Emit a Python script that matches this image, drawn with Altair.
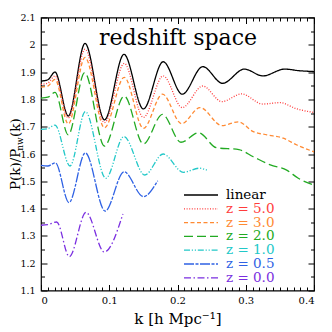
import altair as alt
import pandas as pd

# ---- data ----
names = ["linear", "z = 5.0", "z = 3.0", "z = 2.0", "z = 1.0", "z = 0.5", "z = 0.0"]

k_linear = [0, 0.01, 0.0205, 0.040, 0.0645, 0.093, 0.1216, 0.150, 0.179, 0.207, 0.237, 0.266, 0.298, 0.325, 0.357, 0.379, 0.4]
v_linear = [1.867, 1.872, 1.900, 1.739, 2.005, 1.725, 1.965, 1.765, 1.938, 1.819, 1.920, 1.859, 1.911, 1.886, 1.911, 1.905, 1.902]

k_z50 = [0, 0.01, 0.0205, 0.040, 0.0645, 0.093, 0.122, 0.150, 0.179, 0.207, 0.237, 0.265, 0.294, 0.325, 0.350, 0.375, 0.4]
v_z50 = [1.855, 1.860, 1.886, 1.732, 1.984, 1.715, 1.932, 1.734, 1.886, 1.770, 1.849, 1.792, 1.820, 1.783, 1.788, 1.765, 1.752]

k_z30 = [0, 0.01, 0.0205, 0.040, 0.0645, 0.093, 0.122, 0.150, 0.178, 0.206, 0.233, 0.265, 0.289, 0.311, 0.331, 0.355, 0.375, 0.4]
v_z30 = [1.845, 1.849, 1.873, 1.710, 1.954, 1.696, 1.881, 1.694, 1.819, 1.711, 1.770, 1.704, 1.718, 1.682, 1.670, 1.658, 1.633, 1.608]

k_z20 = [0, 0.01, 0.0205, 0.040, 0.064, 0.093, 0.122, 0.150, 0.178, 0.205, 0.231, 0.257, 0.290, 0.311, 0.336, 0.360, 0.377, 0.4]
v_z20 = [1.805, 1.808, 1.826, 1.670, 1.898, 1.629, 1.812, 1.637, 1.745, 1.643, 1.678, 1.623, 1.616, 1.590, 1.560, 1.541, 1.511, 1.486]

k_z10 = [0, 0.01, 0.0205, 0.0425, 0.065, 0.095, 0.1215, 0.152, 0.179, 0.2085, 0.232, 0.243]
v_z10 = [1.690, 1.693, 1.706, 1.556, 1.755, 1.511, 1.664, 1.523, 1.600, 1.533, 1.548, 1.541]

k_z05 = [0, 0.01, 0.021, 0.041, 0.065, 0.094, 0.1216, 0.150, 0.171]
v_z05 = [1.558, 1.556, 1.568, 1.422, 1.604, 1.391, 1.535, 1.444, 1.502]

k_z00 = [0, 0.01, 0.023, 0.0415, 0.066, 0.0928, 0.120]
v_z00 = [1.339, 1.341, 1.351, 1.224, 1.386, 1.241, 1.380]

x_labels = [0, 0.1, 0.2, 0.3, 0.4]
y_labels = [1.1, 1.2, 1.3, 1.4, 1.5, 1.6, 1.7, 1.8, 1.9, 2.0, 2.1]
x_minor = [round(i * 0.01, 2) for i in range(41) if i % 10 != 0]
y_minor = [round(1.15 + i * 0.1, 2) for i in range(10)]

series_k = [k_linear, k_z50, k_z30, k_z20, k_z10, k_z05, k_z00]
series_v = [v_linear, v_z50, v_z30, v_z20, v_z10, v_z05, v_z00]

# ---- styles ----
colors = ["#000000", "#ff3c3c", "#ff8a33", "#22aa22", "#22c8c8", "#2f62e4", "#7a2ee0"]
dashes = [[1, 0], [1, 1.6], [4, 2.5], [9, 4], [6, 1.8, 1.2, 1.8, 1.2, 1.8], [10, 1.5, 3, 1.5], [7, 2.5, 1.5, 2.5]]

rows = []
for name, ks, vs in zip(names, series_k, series_v):
    for k, v in zip(ks, vs):
        rows.append({"series": name, "k": k, "v": v})
df = pd.DataFrame(rows)

W, H = 273, 273
FONT = "DejaVu Serif"
xscale = alt.Scale(domain=[0, 0.4], nice=False, zero=False)
yscale = alt.Scale(domain=[1.1, 2.1], nice=False, zero=False)

lines = alt.Chart(df).mark_line(interpolate="monotone", strokeWidth=1.3, clip=True).encode(
    x=alt.X("k:Q", scale=xscale,
            axis=alt.Axis(orient="bottom", values=x_labels, format="~g", ticks=False, domain=False,
                          grid=False, labelFont=FONT, labelFontSize=10, labelColor="black",
                          labelPadding=5, title="k [h Mpc⁻¹]", titleFont=FONT, titleFontSize=15,
                          titleFontWeight="normal", titleColor="black", titlePadding=6)),
    y=alt.Y("v:Q", scale=yscale,
            axis=alt.Axis(orient="left", values=y_labels, format="~g", ticks=False, domain=False,
                          grid=False, labelFont=FONT, labelFontSize=9.5, labelColor="black",
                          labelPadding=6, title=None)),
    color=alt.Color("series:N", scale=alt.Scale(domain=names, range=colors), legend=None),
    strokeDash=alt.StrokeDash("series:N", scale=alt.Scale(domain=names, range=dashes), legend=None),
    detail="series:N",
)


def tick_layer(ox, oy, xv, yv, size):
    return alt.Chart(df).mark_point(opacity=0).encode(
        x=alt.X("k:Q", scale=xscale,
                axis=alt.Axis(orient=ox, offset=-H, values=xv, labels=False, domain=False, grid=False,
                              tickSize=size, tickColor="black", tickWidth=1, title=None)),
        y=alt.Y("v:Q", scale=yscale,
                axis=alt.Axis(orient=oy, offset=-W, values=yv, labels=False, domain=False, grid=False,
                              tickSize=size, tickColor="black", tickWidth=1, title=None)),
    )


ticks = [
    tick_layer("top", "right", x_labels, y_labels, 6),
    tick_layer("top", "right", x_minor, y_minor, 3.5),
    tick_layer("bottom", "left", x_labels, y_labels, 6),
    tick_layer("bottom", "left", x_minor, y_minor, 3.5),
]

one = pd.DataFrame({"a": [0]})

title = alt.Chart(pd.DataFrame({"t": ["redshift space"]})).mark_text(
    font=FONT, fontSize=22, align="center", baseline="alphabetic", color="black"
).encode(text="t:N", x=alt.value(137), y=alt.value(27.5))

ytitle_parts = [("P(k)/P", 13.5, -21.5, 172.5), ("nw", 9, -18.5, 133.2), ("(k)", 13.5, -21.5, 119.5)]
ytitle = []
for txt, fs, xx, yy in ytitle_parts:
    ytitle.append(alt.Chart(pd.DataFrame({"t": [txt]})).mark_text(
        font=FONT, fontSize=fs, align="left", baseline="alphabetic", angle=270, color="black"
    ).encode(text="t:N", x=alt.value(xx), y=alt.value(yy)))

legend_layers = []
for i, (name, col, dash) in enumerate(zip(names, colors, dashes)):
    yy = 177.5 + i * 13.8
    legend_layers.append(alt.Chart(one).mark_rule(strokeWidth=1.3).encode(
        x=alt.value(143), x2=alt.value(177), y=alt.value(yy),
        color=alt.value(col), strokeDash=alt.value(dash)))
    legend_layers.append(alt.Chart(pd.DataFrame({"t": [name]})).mark_text(
        font=FONT, fontSize=13.5, align="left", baseline="middle", color=col
    ).encode(text="t:N", x=alt.value(185), y=alt.value(yy)))

chart = alt.layer(lines, *ticks, title, *ytitle, *legend_layers).resolve_axis(
    x="independent", y="independent"
).properties(
    width=W, height=H,
    autosize=alt.AutoSizeParams(type="none"),
    padding={"left": 33, "top": 9.5, "right": 10, "bottom": 40},
).configure_view(stroke="black", strokeWidth=1.2)

chart.save("out.html", embed_options={"renderer": "svg", "actions": False})
